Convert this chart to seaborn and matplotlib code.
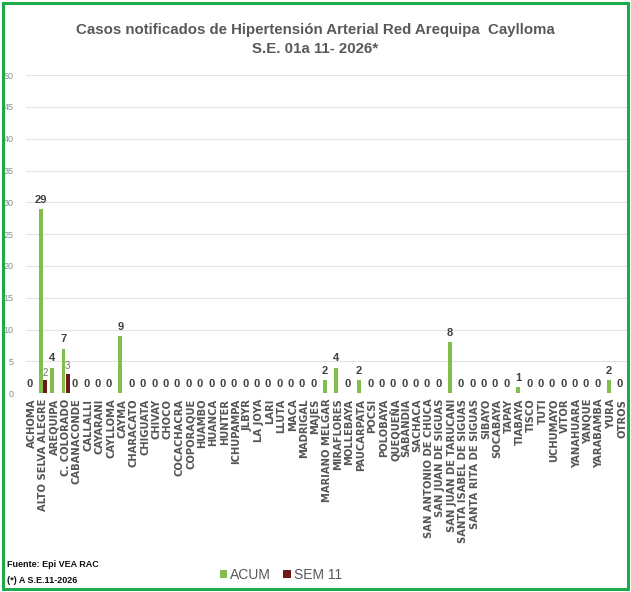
import numpy as np
import pandas as pd
import matplotlib
matplotlib.use("Agg")
import matplotlib.pyplot as plt
import seaborn as sns
from matplotlib.patches import Rectangle

sns.set_style("whitegrid")
plt.rcParams['font.family'] = ['Liberation Sans Narrow', 'Liberation Sans', 'DejaVu Sans']

distritos = ["ACHOMA", "ALTO SELVA ALEGRE", "AREQUIPA", "C. COLORADO", "CABANACONDE",
             "CALLALLI", "CAYARANI", "CAYLLOMA", "CAYMA", "CHARACATO", "CHIGUATA",
             "CHIVAY", "CHOCO", "COCACHACRA", "COPORAQUE", "HUAMBO", "HUANCA", "HUNTER",
             "ICHUPAMPA", "JLBYR", "LA JOYA", "LARI", "LLUTA", "MACA", "MADRIGAL",
             "MAJES", "MARIANO MELGAR", "MIRAFLORES", "MOLLEBAYA", "PAUCARPATA", "POCSI",
             "POLOBAYA", "QUEQUEÑA", "SABANDIA", "SACHACA", "SAN ANTONIO DE CHUCA",
             "SAN JUAN DE SIGUAS", "SAN JUAN DE TARUCANI", "SANTA ISABEL DE SIGUAS",
             "SANTA RITA DE SIGUAS", "SIBAYO", "SOCABAYA", "TAPAY", "TIABAYA", "TISCO",
             "TUTI", "UCHUMAYO", "VITOR", "YANAHUARA", "YANQUE", "YARABAMBA", "YURA",
             "OTROS"]
acum = [0, 29, 4, 7, 0, 0, 0, 0, 9, 0, 0, 0, 0, 0, 0, 0, 0, 0, 0, 0, 0, 0, 0, 0, 0,
        0, 2, 4, 0, 2, 0, 0, 0, 0, 0, 0, 0, 8, 0, 0, 0, 0, 0, 1, 0, 0, 0, 0, 0, 0, 0,
        2, 0]
sem11 = [0, 2, 0, 3] + [0] * 49

df = pd.DataFrame({
    "distrito": distritos * 2,
    "casos": acum + sem11,
    "serie": ["ACUM"] * len(distritos) + ["SEM 11"] * len(distritos),
})

fig = plt.figure(figsize=(6.31, 5.92), dpi=100)
ax = fig.add_axes([0.041, 0.336, 0.954, 0.537])

sns.barplot(data=df, x="distrito", y="casos", hue="serie",
            palette={"ACUM": "#7FD13B", "SEM 11": "#7A0C0C"},
            width=0.75, gap=0.12, linewidth=0, ax=ax, legend=True)

# etiquetas de datos
ax.bar_label(ax.containers[0], fmt="%d", fontsize=8, fontweight="bold",
             color="#404040", padding=3)
labs = [str(v) if v > 0 else "" for v in sem11]
ax.bar_label(ax.containers[1], labels=labs, fontsize=7, color="#707070", padding=2)

ax.set_ylim(0, 50)
ax.set_yticks(range(0, 51, 5))
ax.set_xlim(-0.5, len(distritos) - 0.5)
ax.set_xlabel("")
ax.set_ylabel("")
ax.grid(axis="x", visible=False)
ax.grid(axis="y", color="#E3E3E3", linewidth=0.8)
for s in ax.spines.values():
    s.set_visible(False)
ax.tick_params(axis="y", labelsize=6.5, labelcolor="#8C8C8C", length=0, pad=9)
ax.tick_params(axis="x", length=0, pad=4)
ax.set_xticks(range(len(distritos)))
ax.set_xticklabels(distritos, rotation=90, fontsize=7.2, fontweight="bold",
                   color="#555555", family="DejaVu Sans")

leg = ax.get_legend()
handles = leg.legend_handles
leg.remove()
fig.legend(handles, ["ACUM", "SEM 11"], loc="center", bbox_to_anchor=(0.445, 0.029),
           ncol=2, frameon=False, fontsize=10, handlelength=0.55, handleheight=0.55,
           handletextpad=0.2, columnspacing=0.9, labelcolor="#595959")

fig.text(0.5, 0.949, "Casos notificados de Hipertensión Arterial Red Arequipa  Caylloma",
         ha="center", va="center", fontsize=10.8, color="#595959", fontweight="bold")
fig.text(0.5, 0.917, "S.E. 01a 11- 2026*", ha="center", va="center", fontsize=10.8,
         color="#595959", fontweight="bold")

fig.text(0.011, 0.046, "Fuente: Epi VEA RAC", fontsize=6.5, fontweight="bold",
         color="#111111", va="center")
fig.text(0.011, 0.020, "(*) A S.E.11-2026", fontsize=6.5, fontweight="bold",
         color="#111111", va="center")

fig.patches.append(Rectangle((0.005, 0.005), 0.99, 0.99, transform=fig.transFigure,
                             fill=False, edgecolor="#1DAA4A", linewidth=2.2))

fig.savefig("out.png", dpi=100)
